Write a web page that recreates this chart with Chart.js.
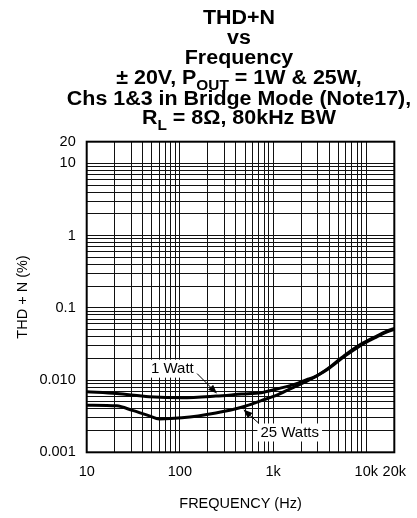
<!DOCTYPE html>
<html>
<head>
<meta charset="utf-8">
<script src="https://cdn.jsdelivr.net/npm/chart.js@4"></script>
<style>
  html, body { margin: 0; padding: 0; background: #fff; }
  #wrap { width: 417px; height: 518px; position: relative; }
</style>
</head>
<body>
<div id="wrap"><canvas id="thdChart"></canvas></div>
<script>
// values
const freq1W = [10, 21, 47, 105, 243, 458, 748, 1130, 1720, 2360, 2800, 3860, 5840, 8630, 10000, 13100, 16000, 20000]
const thd1W = [0.0069, 0.0065, 0.0059, 0.0057, 0.0060, 0.0064, 0.0067, 0.0076, 0.0088, 0.0103, 0.0111, 0.0144, 0.022, 0.031, 0.0345, 0.041, 0.0465, 0.052]
const freq25W = [10, 21, 31, 47, 60, 105, 243, 458, 748, 1130, 1720, 2540, 3860, 5840, 8630, 10000, 13100, 16000, 20000]
const thd25W = [0.0045, 0.0044, 0.0038, 0.0032, 0.0029, 0.0030, 0.0035, 0.0042, 0.0052, 0.0063, 0.0081, 0.0103, 0.0141, 0.0213, 0.030, 0.0335, 0.040, 0.0455, 0.0505]

// grid lines (every 1..9 of each decade) and the ones that get a label
const xGrid = [10,20,30,40,50,60,70,80,90,100,200,300,400,500,600,700,800,900,
  1000,2000,3000,4000,5000,6000,7000,8000,9000,10000,20000]
const xLabels = {10: '10', 100: '100', 1000: '1k', 10000: '10k', 20000: '20k'}
const yGrid = [0.001,0.002,0.003,0.004,0.005,0.006,0.007,0.008,0.009,
  0.01,0.02,0.03,0.04,0.05,0.06,0.07,0.08,0.09,
  0.1,0.2,0.3,0.4,0.5,0.6,0.7,0.8,0.9,
  1,2,3,4,5,6,7,8,9,10,20]
const yLabels = {0.001: '0.001', 0.01: '0.010', 0.1: '0.1', 1: '1', 10: '10', 20: '20'}

// curve labels with arrows, in data coordinates
const notes = [
  {text: '1 Watt', x: 83, y: 0.0144, tailX: 153, tailY: 0.0123, headX: 250, headY: 0.0065},
  {text: '25 Watts', x: 1508, y: 0.00188, tailX: 707, tailY: 0.00251, headX: 481, headY: 0.0039}
]

const FONT = "'Liberation Sans', Arial, sans-serif"

const toPoints = (xs, ys) => xs.map((x, i) => ({x: x, y: ys[i]}))

// title has subscripts, so draw it by hand (font in the scan is a bit wider than Arial)
const titlePlugin = {
  id: 'titleLines',
  afterDraw(chart) {
    const ctx = chart.ctx
    const cx = 239
    const stretch = 1.1
    const lines = [
      {y: 24, parts: [['THD+N']]},
      {y: 44, parts: [['vs']]},
      {y: 64, parts: [['Frequency']]},
      {y: 84, parts: [['\u00b1 20V, P'], ['OUT', 1], [' = 1W & 25W,']]},
      {y: 105, parts: [['Chs 1&3 in Bridge Mode (Note17),']]},
      {y: 124, parts: [['R'], ['L', 1], [' = 8\u03a9, 80kHz BW']]}
    ]
    const big = 'bold 19.5px ' + FONT
    const small = 'bold 14px ' + FONT
    ctx.save()
    ctx.fillStyle = '#000'
    ctx.textBaseline = 'alphabetic'
    ctx.textAlign = 'left'
    lines.forEach(line => {
      let total = 0
      line.parts.forEach(p => {
        ctx.font = p[1] ? small : big
        total += ctx.measureText(p[0]).width
      })
      let x = -total / 2
      line.parts.forEach(p => {
        ctx.font = p[1] ? small : big
        ctx.save()
        ctx.translate(cx, line.y + (p[1] ? 6 : 0))
        ctx.scale(stretch, 1)
        ctx.fillText(p[0], x, 0)
        ctx.restore()
        x += ctx.measureText(p[0]).width
      })
    })
    ctx.restore()
  }
}

const framePlugin = {
  id: 'frame',
  afterDatasetsDraw(chart) {
    const {ctx, chartArea: a, scales} = chart
    ctx.save()
    ctx.strokeStyle = '#000'
    ctx.lineWidth = 2
    ctx.strokeRect(a.left, a.top, a.right - a.left, a.bottom - a.top)

    // annotations
    ctx.font = '15px ' + FONT
    ctx.textAlign = 'center'
    ctx.textBaseline = 'middle'
    notes.forEach(n => {
      const tx = scales.x.getPixelForValue(n.x)
      const ty = scales.y.getPixelForValue(n.y)
      const w = ctx.measureText(n.text).width + 6
      ctx.fillStyle = '#fff'
      ctx.fillRect(tx - w / 2, ty - 9, w, 18)
      ctx.fillStyle = '#000'
      ctx.fillText(n.text, tx, ty)

      const x1 = scales.x.getPixelForValue(n.tailX)
      const y1 = scales.y.getPixelForValue(n.tailY)
      const x2 = scales.x.getPixelForValue(n.headX)
      const y2 = scales.y.getPixelForValue(n.headY)
      const ang = Math.atan2(y2 - y1, x2 - x1)
      ctx.lineWidth = 1
      ctx.beginPath()
      ctx.moveTo(x1, y1)
      ctx.lineTo(x2 - 6 * Math.cos(ang), y2 - 6 * Math.sin(ang))
      ctx.stroke()
      ctx.beginPath()
      ctx.moveTo(x2, y2)
      ctx.lineTo(x2 - 9 * Math.cos(ang) + 3.5 * Math.sin(ang), y2 - 9 * Math.sin(ang) - 3.5 * Math.cos(ang))
      ctx.lineTo(x2 - 9 * Math.cos(ang) - 3.5 * Math.sin(ang), y2 - 9 * Math.sin(ang) + 3.5 * Math.cos(ang))
      ctx.closePath()
      ctx.fill()
    })
    ctx.restore()
  }
}

const curveStyle = {
  borderColor: '#000',
  borderWidth: 3,
  pointRadius: 0,
  fill: false,
  cubicInterpolationMode: 'monotone'
}

new Chart(document.getElementById('thdChart'), {
  type: 'line',
  data: {
    datasets: [
      Object.assign({label: '1 Watt', data: toPoints(freq1W, thd1W)}, curveStyle),
      Object.assign({label: '25 Watts', data: toPoints(freq25W, thd25W)}, curveStyle)
    ]
  },
  options: {
    responsive: true,
    maintainAspectRatio: false,
    animation: false,
    layout: {padding: {top: 141.7, right: 21, left: 0, bottom: 0}},
    plugins: {legend: {display: false}, tooltip: {enabled: false}},
    scales: {
      x: {
        type: 'logarithmic',
        min: 10,
        max: 20000,
        afterFit: s => { s.height = 65.7 },
        afterBuildTicks: s => { s.ticks = xGrid.map(v => ({value: v})) },
        grid: {color: '#111', lineWidth: 1, drawTicks: false},
        border: {display: false},
        ticks: {
          autoSkip: false,
          maxRotation: 0,
          padding: 11,
          color: '#000',
          font: {family: FONT, size: 14.5},
          callback: v => xLabels[v] || ''
        },
        title: {display: true, text: 'FREQUENCY (Hz)', color: '#000',
          font: {family: FONT, size: 14.5}, padding: {top: 0, bottom: 5}}
      },
      y: {
        type: 'logarithmic',
        min: 0.001,
        max: 20,
        afterFit: s => { s.width = 86.7 },
        afterBuildTicks: s => { s.ticks = yGrid.map(v => ({value: v})) },
        grid: {color: '#111', lineWidth: 1, drawTicks: false},
        border: {display: false},
        ticks: {
          autoSkip: false,
          padding: 11,
          color: '#000',
          font: {family: FONT, size: 14.5},
          callback: v => yLabels[v] || ''
        },
        title: {display: true, text: 'THD + N (%)', color: '#000',
          font: {family: FONT, size: 14.5}, padding: {top: 14.6, bottom: 0}}
      }
    }
  },
  plugins: [titlePlugin, framePlugin]
})
</script>
</body>
</html>
